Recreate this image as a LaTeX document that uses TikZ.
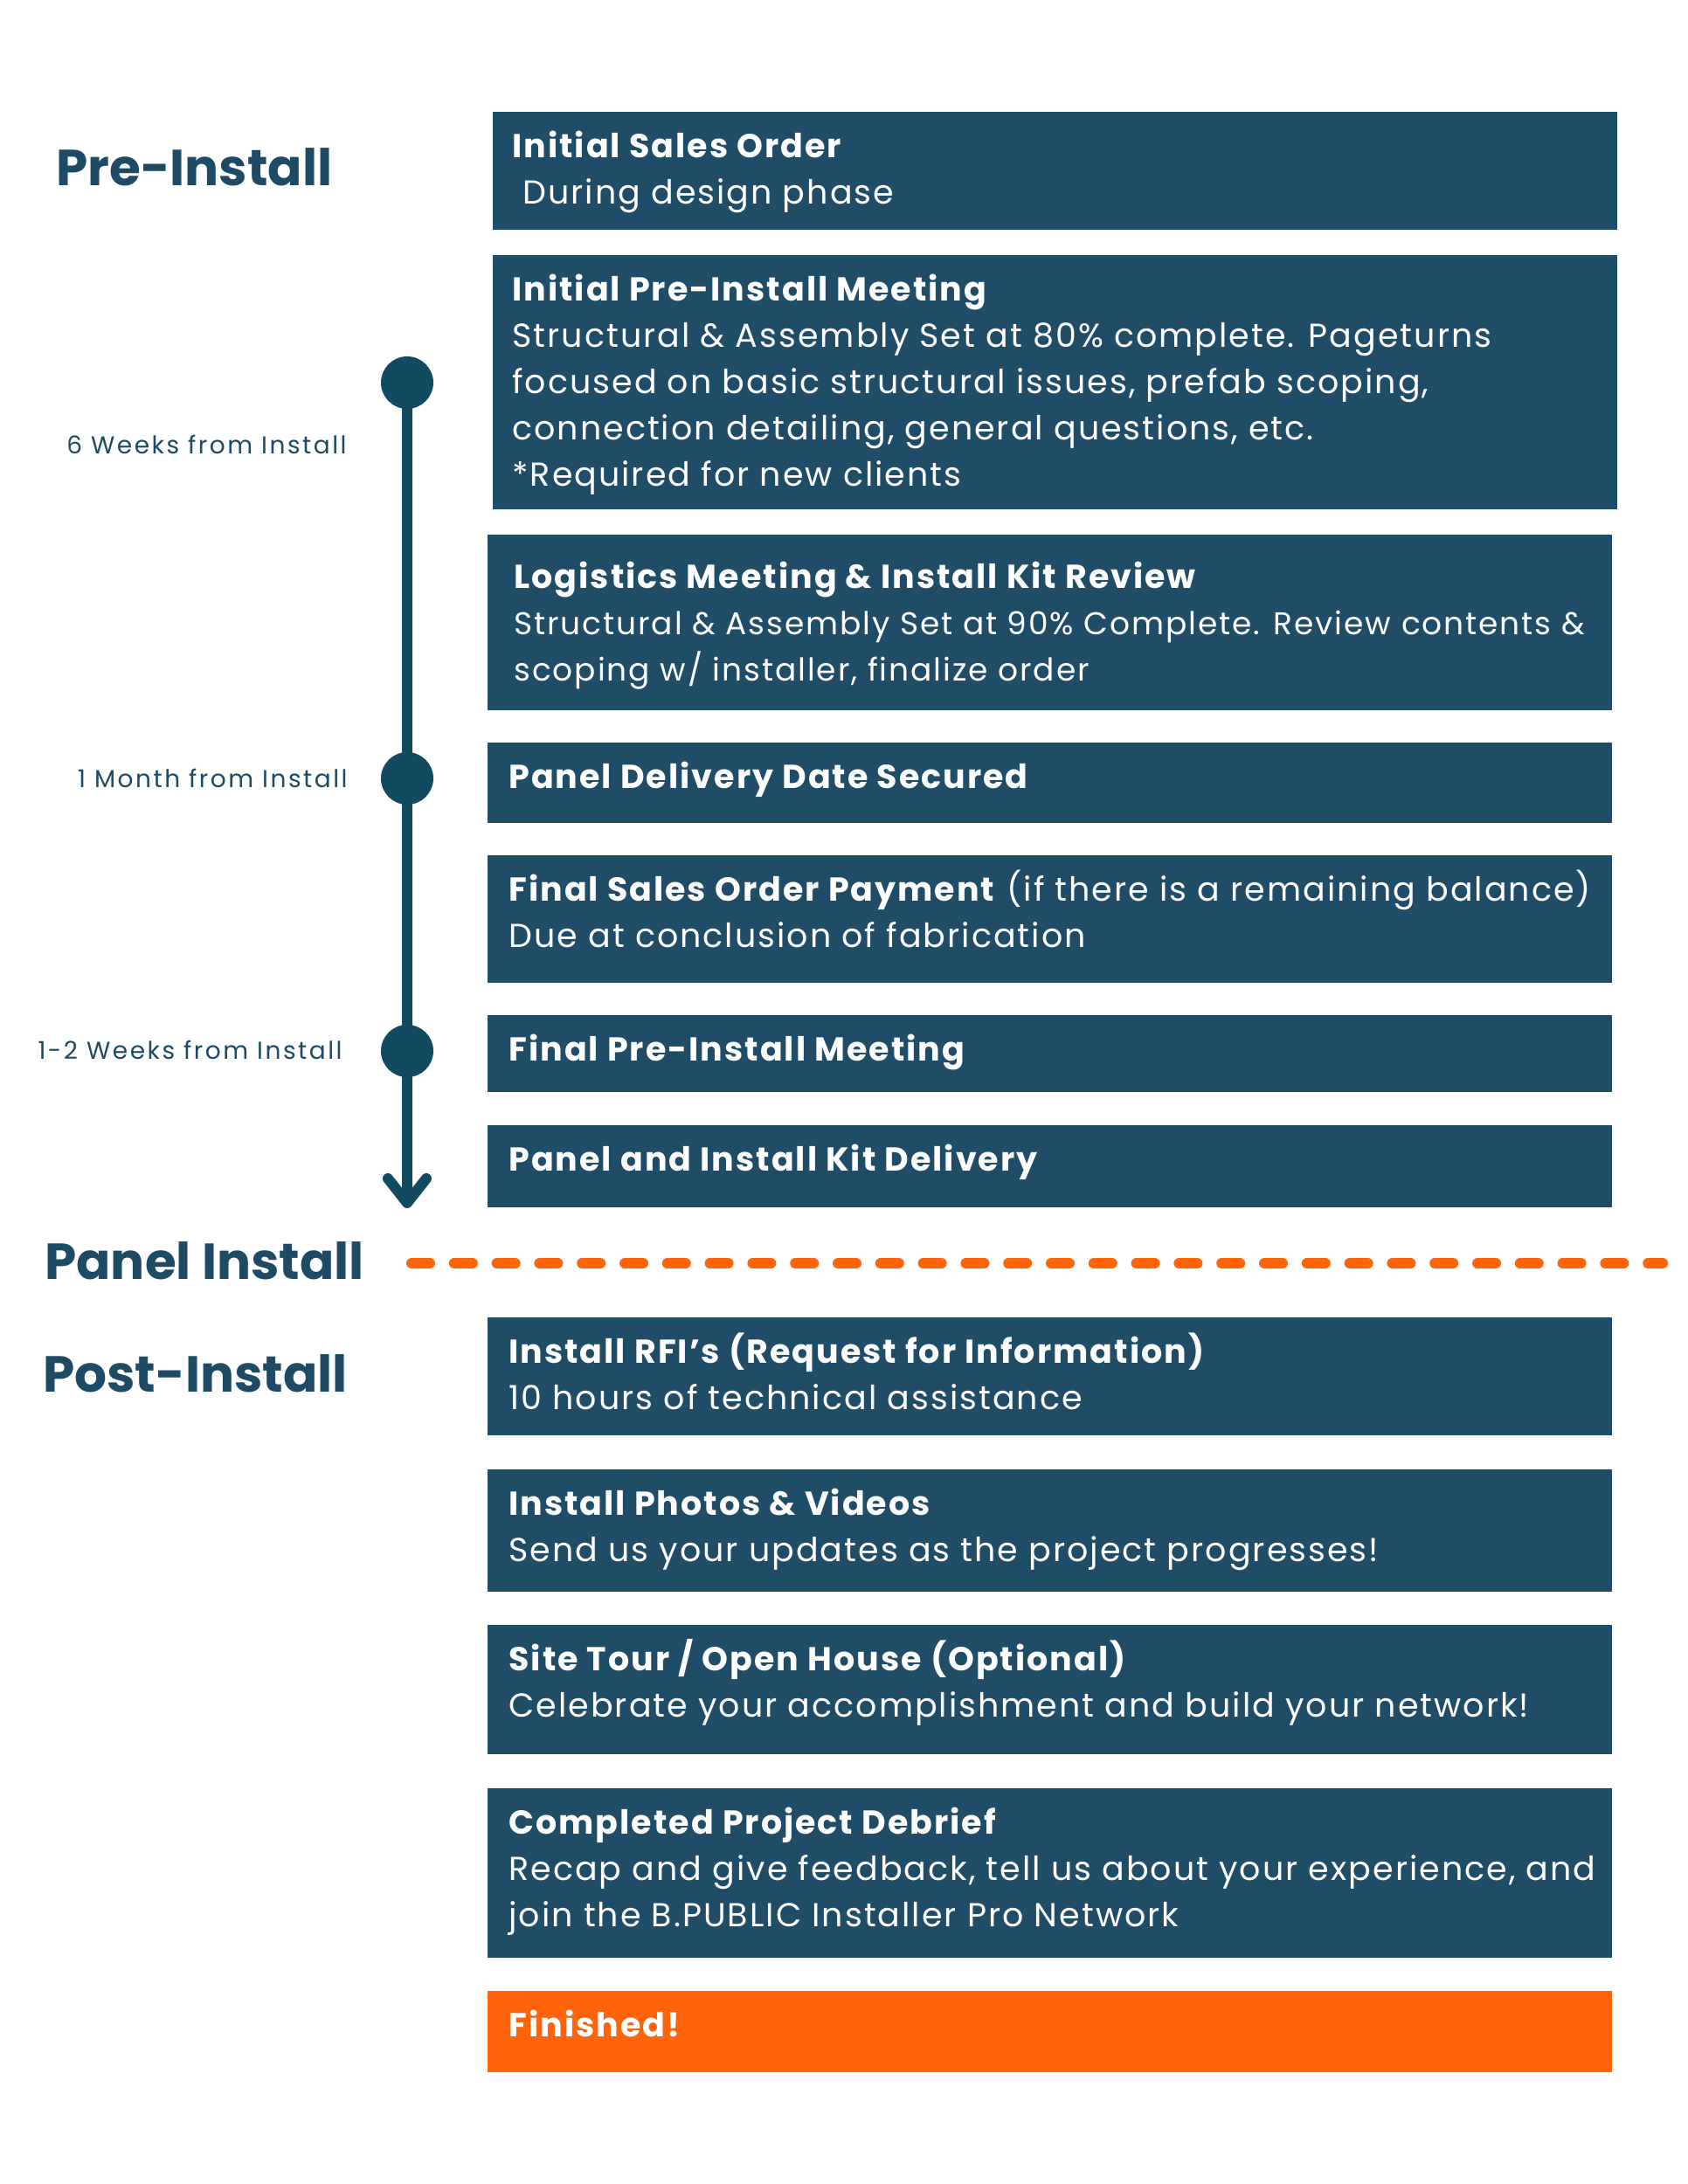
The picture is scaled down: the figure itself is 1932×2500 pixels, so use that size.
\documentclass[tikz,border=0pt]{standalone}
\usepackage{fontspec}
\setmainfont{Poppins}[LetterSpace=5.3]
\newfontfamily\headfont{Poppins}
\newfontfamily\whenfont{Poppins}[LetterSpace=9]
\usetikzlibrary{arrows.meta}
\definecolor{boxblue}{HTML}{1F4D68}
\definecolor{lineblue}{HTML}{124A62}
\definecolor{headblue}{HTML}{1D4A64}
\definecolor{accent}{HTML}{FF640A}
\newcommand\boxlines[1]{\parbox[t]{760pt}{\raggedright #1}}
\newcommand\smallline{\fontsize{18pt}{26.5pt}\selectfont}
\begin{document}
\begin{tikzpicture}[x=0.5pt,y=-0.5pt,
  card/.style={rectangle, fill=boxblue, draw=none, anchor=north west, inner sep=0, minimum width=643.5pt},
  finish/.style={card, fill=accent},
  cardtext/.style={anchor=base west, inner sep=0, text=white, font=\fontsize{19pt}{26.5pt}\selectfont},
  heading/.style={anchor=west, inner sep=0, text=headblue, font=\headfont\fontsize{29pt}{31pt}\selectfont\bfseries},
  when/.style={anchor=east, inner sep=0, text=headblue, font=\whenfont\fontsize{14pt}{16pt}\selectfont},
  milestone/.style={circle, fill=lineblue, minimum size=30pt, inner sep=0},
]
\fill[white] (0,0) rectangle (1932,2500);
\useasboundingbox (0,0) rectangle (1932,2500);

% headings
\node[heading] (pre) at (64,191) {Pre-Install};
\node[heading] (panel) at (51,1443) {Panel Install};
\node[heading] (post) at (49,1572) {Post-Install};

% timeline labels
\node[when] (w6) at (397,509) {6 Weeks from Install};
\node[when] (w1) at (398,891) {1 Month from Install};
\node[when] (w12) at (392,1202) {1-2 Weeks from Install};

% timeline
\node[milestone] (m1) at (466,438) {};
\node[milestone] (m2) at (466,891) {};
\node[milestone] (m3) at (466,1203) {};
\coordinate (tip) at (466,1383);
\draw[lineblue, line width=6pt, -{Straight Barb[length=14pt,width=22pt,round]}] (m1.center) -- (tip);

% separator
\coordinate (dashstart) at (471,1446);
\coordinate (dashend) at (1903,1446);
\draw[accent, line width=6pt, line cap=round, dash pattern=on 10.5pt off 13.9pt] (dashstart) -- (dashend);

% cards
\node[card, minimum height=67.5pt] (b1) at (564,128) {};
\node[card, minimum height=145.5pt] (b2) at (564,292) {};
\node[card, minimum height=100.5pt] (b3) at (558,612) {};
\node[card, minimum height=46pt] (b4) at (558,850) {};
\node[card, minimum height=73pt] (b5) at (558,979) {};
\node[card, minimum height=44pt] (b6) at (558,1162) {};
\node[card, minimum height=47pt] (b7) at (558,1288) {};
\node[card, minimum height=67.5pt] (b8) at (558,1508) {};
\node[card, minimum height=70pt] (b9) at (558,1682) {};
\node[card, minimum height=74pt] (b10) at (558,1860) {};
\node[card, minimum height=97pt] (b11) at (558,2047) {};
\node[finish, minimum height=46.5pt] (b12) at (558,2279) {};

\node[cardtext] (t1) at ([xshift=11pt,yshift=-26pt]b1.north west) {\boxlines{\textbf{Initial Sales Order}\\\hspace*{6pt}During design phase}};
\node[cardtext] (t2) at ([xshift=11pt,yshift=-26pt]b2.north west) {\boxlines{\textbf{Initial Pre-Install Meeting}\\Structural \& Assembly Set at 80\% complete. Pageturns\\focused on basic structural issues, prefab scoping,\\connection detailing, general questions, etc.\\{*}Required for new clients}};
\node[cardtext] (t3) at ([xshift=15pt,yshift=-30.5pt]b3.north west) {\boxlines{\textbf{Logistics Meeting \& Install Kit Review}\\{\smallline Structural \& Assembly Set at 90\% Complete. Review contents \&}\\{\smallline scoping w/ installer, finalize order}}};
\node[cardtext] (t4) at ([xshift=12pt,yshift=-26pt]b4.north west) {\boxlines{\textbf{Panel Delivery Date Secured}}};
\node[cardtext] (t5) at ([xshift=12pt,yshift=-26pt]b5.north west) {\boxlines{\textbf{Final Sales Order Payment} (if there is a remaining balance)\\Due at conclusion of fabrication}};
\node[cardtext] (t6) at ([xshift=12pt,yshift=-26pt]b6.north west) {\boxlines{\textbf{Final Pre-Install Meeting}}};
\node[cardtext] (t7) at ([xshift=12pt,yshift=-26pt]b7.north west) {\boxlines{\textbf{Panel and Install Kit Delivery}}};
\node[cardtext] (t8) at ([xshift=12pt,yshift=-26pt]b8.north west) {\boxlines{\textbf{Install RFI’s (Request for Information)}\\10 hours of technical assistance}};
\node[cardtext] (t9) at ([xshift=12pt,yshift=-26pt]b9.north west) {\boxlines{\textbf{Install Photos \& Videos}\\Send us your updates as the project progresses!}};
\node[cardtext] (t10) at ([xshift=12pt,yshift=-26pt]b10.north west) {\boxlines{\textbf{Site Tour / Open House (Optional)}\\Celebrate your accomplishment and build your network!}};
\node[cardtext] (t11) at ([xshift=12pt,yshift=-26pt]b11.north west) {\boxlines{\textbf{Completed Project Debrief}\\Recap and give feedback, tell us about your experience, and\\join the B.PUBLIC Installer Pro Network}};
\node[cardtext] (t12) at ([xshift=12pt,yshift=-26pt]b12.north west) {\boxlines{\textbf{Finished!}}};
\end{tikzpicture}
\end{document}
